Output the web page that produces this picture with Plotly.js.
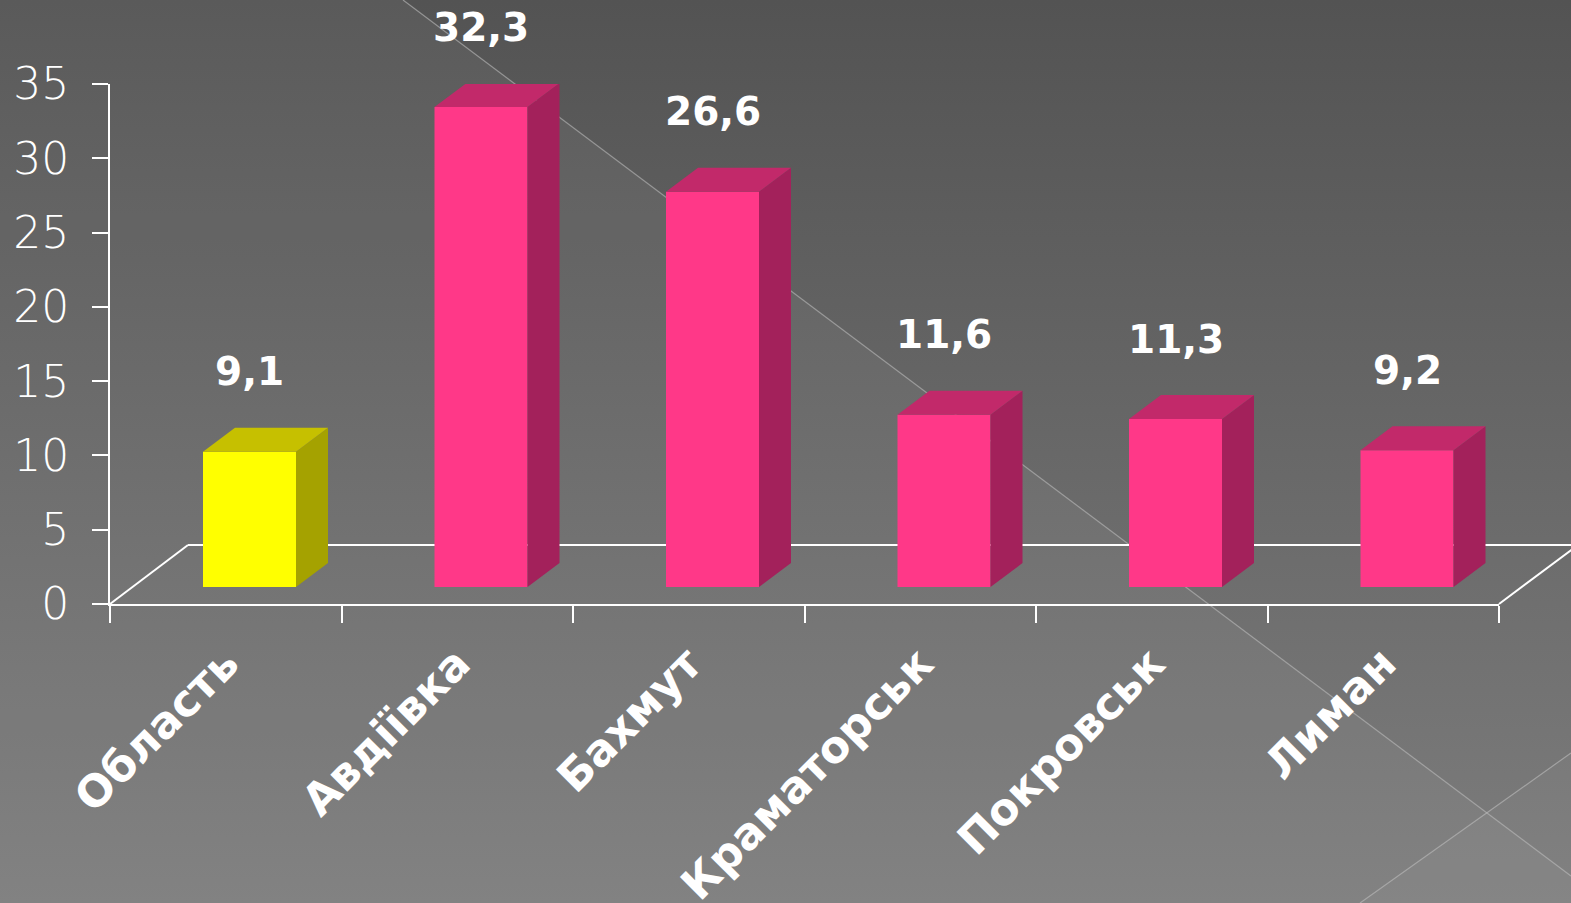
<!DOCTYPE html>
<html>
<head>
<meta charset="utf-8">
<script src="https://cdn.plot.ly/plotly-3.0.1.min.js"></script>
<style>
  html, body { margin: 0; padding: 0; }
  body { width: 1571px; height: 903px; overflow: hidden;
         background: linear-gradient(to bottom, #535353 0%, #6a6a6a 55%, #7d7d7d 100%); }
  #chart { width: 1571px; height: 903px; }
</style>
</head>
<body>
<div id="chart"></div>
<script>
// ---- data ----
const categories = ['Область', 'Авдіївка', 'Бахмут', 'Краматорськ', 'Покровськ', 'Лиман'];
const values = [9.1, 32.3, 26.6, 11.6, 11.3, 9.2];
const yTickValues = [0, 5, 10, 15, 20, 25, 30, 35];

// ---- styling / geometry ----
const W = 1571, H = 903;
const M = { l: 110, r: 72, t: 84, b: 299 };
const plotW = W - M.l - M.r, plotH = H - M.t - M.b;
const catPx = plotW / categories.length;       // px per category
const unitPx = plotH / 35;                      // px per value unit
const depthShiftX = 23.75 / catPx;              // bar row sits behind front edge
const depthShiftY = 17 / unitPx;
const barWidth = 93 / catPx;
const dX = 32 / catPx, dY = 24 / unitPx;        // 3D extrusion

const isRegion = c => c === 'Область';
const frontCol = c => isRegion(c) ? '#FFFF00' : '#FF3888';
const topCol   = c => isRegion(c) ? '#C6C000' : '#C2296A';
const sideCol  = c => isRegion(c) ? '#A5A200' : '#A3215B';

const idx = categories.map((c, i) => i);
const fmt = v => v.toFixed(1).replace('.', ',');

const traces = [];
// invisible trace to carry the category axis
traces.push({ type: 'scatter', x: categories, y: categories.map(() => 0), mode: 'markers',
  marker: { opacity: 0 }, hoverinfo: 'skip', showlegend: false, xaxis: 'x', yaxis: 'y' });

categories.forEach((c, i) => {
  const v = values[i];
  const xl = i - barWidth / 2, xr = i + barWidth / 2;
  // side face
  traces.push({ type: 'scatter', xaxis: 'x2', yaxis: 'y2', mode: 'lines', line: { width: 0 },
    x: [xr, xr, xr + dX, xr + dX, xr], y: [0, v, v + dY, dY, 0],
    fill: 'toself', fillcolor: sideCol(c), hoverinfo: 'skip', showlegend: false });
  // top face
  traces.push({ type: 'scatter', xaxis: 'x2', yaxis: 'y2', mode: 'lines', line: { width: 0 },
    x: [xl, xr, xr + dX, xl + dX, xl], y: [v, v, v + dY, v + dY, v],
    fill: 'toself', fillcolor: topCol(c), hoverinfo: 'skip', showlegend: false });
});

// front faces
traces.push({ type: 'bar', x: idx, y: values, width: barWidth, xaxis: 'x2', yaxis: 'y2',
  marker: { color: categories.map(frontCol), line: { width: 0 } },
  hoverinfo: 'skip', showlegend: false });

// helpers for decorations in paper coords
const px = X => (X - M.l) / plotW;
const py = Y => (M.t + plotH - Y) / plotH;

const shapes = [
  { type: 'path', xref: 'paper', yref: 'paper', layer: 'below', line: { width: 0 },
    fillcolor: 'rgba(255,255,255,0.045)',
    path: `M ${px(0)},${py(0)} L ${px(403)},${py(0)} L ${px(1571)},${py(876)} L ${px(1571)},${py(903)} L ${px(0)},${py(903)} Z` },
  { type: 'path', xref: 'paper', yref: 'paper', layer: 'below', line: { width: 0 },
    fillcolor: 'rgba(255,255,255,0.03)',
    path: `M ${px(1360)},${py(903)} L ${px(1571)},${py(753)} L ${px(1571)},${py(903)} Z` },
  { type: 'line', xref: 'paper', yref: 'paper', layer: 'below',
    x0: px(403), y0: py(0), x1: px(1571), y1: py(876), line: { color: 'rgba(190,190,190,0.6)', width: 1.2 } },
  { type: 'line', xref: 'paper', yref: 'paper', layer: 'below',
    x0: px(1360), y0: py(903), x1: px(1571), y1: py(753), line: { color: 'rgba(190,190,190,0.6)', width: 1.2 } },
  // floor
  { type: 'line', xref: 'paper', yref: 'paper', layer: 'below',
    x0: px(110), y0: py(604), x1: px(188), y1: py(545), line: { color: '#ffffff', width: 2 } },
  { type: 'line', xref: 'paper', yref: 'paper', layer: 'below',
    x0: px(188), y0: py(545), x1: px(1580), y1: py(545), line: { color: '#ffffff', width: 2 } },
  { type: 'line', xref: 'paper', yref: 'paper', layer: 'below',
    x0: px(1499), y0: py(604), x1: px(1578), y1: py(545), line: { color: '#ffffff', width: 2 } }
];

const annotations = categories.map((c, i) => ({
  x: i, y: values[i], xref: 'x2', yref: 'y2', text: fmt(values[i]),
  showarrow: false, yshift: 80, yanchor: 'middle', xanchor: 'center',
  font: { family: 'DejaVu Sans', size: 39, color: '#ffffff', weight: 'bold' }
}));

const layout = {
  width: W, height: H, margin: M,
  paper_bgcolor: 'rgba(0,0,0,0)', plot_bgcolor: 'rgba(0,0,0,0)',
  showlegend: false, hovermode: false,
  xaxis: {
    type: 'category', categoryorder: 'array', categoryarray: categories,
    range: [-0.5, categories.length - 0.5], tickson: 'boundaries',
    ticks: 'outside', ticklen: 17, tickwidth: 2, tickcolor: '#ffffff',
    showline: true, linecolor: '#ffffff', linewidth: 2,
    showgrid: false, zeroline: false, tickangle: -45, automargin: false,
    ticklabelstandoff: 14,
    tickfont: { family: 'DejaVu Sans', size: 44, color: '#ffffff', weight: 'bold' },
    fixedrange: true
  },
  yaxis: {
    range: [0, 35], tickvals: yTickValues, ticktext: yTickValues.map(String),
    ticks: 'outside', ticklen: 16, tickwidth: 2, tickcolor: '#ffffff',
    showline: true, linecolor: '#ffffff', linewidth: 2,
    showgrid: false, zeroline: false, automargin: false, ticklabelstandoff: 14,
    tickfont: { family: 'DejaVu Sans', size: 44, color: '#ffffff', weight: 200 },
    fixedrange: true
  },
  xaxis2: { overlaying: 'x', anchor: 'y2', visible: false, fixedrange: true,
    range: [-0.5 - depthShiftX, categories.length - 0.5 - depthShiftX] },
  yaxis2: { overlaying: 'y', anchor: 'x2', visible: false, fixedrange: true,
    range: [-depthShiftY, 35 - depthShiftY] },
  shapes: shapes,
  annotations: annotations
};

Plotly.newPlot('chart', traces, layout, { staticPlot: true, displayModeBar: false });
</script>
</body>
</html>
